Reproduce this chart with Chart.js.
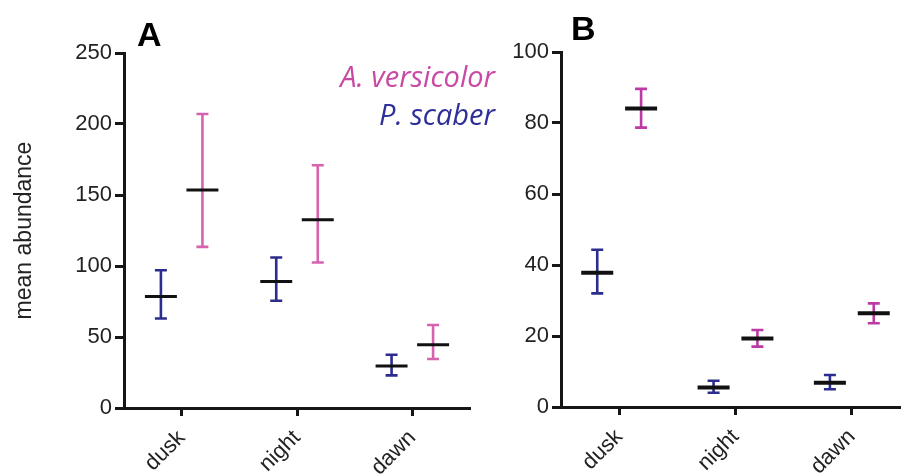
<!DOCTYPE html>
<html>
<head>
<meta charset="utf-8">
<script src="https://cdn.jsdelivr.net/npm/chart.js@4"></script>
<style>
  html, body { margin: 0; padding: 0; background: #fff; overflow: hidden; }
  body { width: 901px; height: 474px; position: relative; }
  canvas { position: absolute; top: 0; }
  #chartA { left: 0; }
  #chartB { left: 450px; }
</style>
</head>
<body>
<canvas id="chartA" width="510" height="474"></canvas>
<canvas id="chartB" width="460" height="474"></canvas>
<script>
const categories = ['dusk', 'night', 'dawn'];

// panel A
const scaberMeanA = [78.5, 89, 29.5];
const scaberLowA = [63, 75.5, 23];
const scaberHighA = [97, 106, 37.5];
const versiMeanA = [153.5, 132.5, 44.5];
const versiLowA = [113.5, 102.5, 34.5];
const versiHighA = [207, 171, 58.5];

// panel B
const scaberMeanB = [37.8, 5.5, 6.8];
const scaberLowB = [32, 4, 5];
const scaberHighB = [44.3, 7.4, 9];
const versiMeanB = [84.1, 19.3, 26.4];
const versiLowB = [78.7, 17, 23.6];
const versiHighB = [89.6, 21.7, 29.2];

const FONT = 'Liberation Sans, Arial, sans-serif';
const AXIS = '#161616';

// draws the error bars and the mean line on top of the (invisible) bars
const errorBars = {
  id: 'errorBars',
  afterDatasetsDraw(chart, args, opts) {
    const ctx = chart.ctx;
    const y = chart.scales.y;
    chart.data.datasets.forEach((ds, i) => {
      const meta = chart.getDatasetMeta(i);
      meta.data.forEach((bar, j) => {
        const x = bar.x;
        const yHi = y.getPixelForValue(ds.high[j]);
        const yLo = y.getPixelForValue(ds.low[j]);
        const yMean = y.getPixelForValue(ds.data[j]);
        const cap = 6;
        ctx.save();
        ctx.strokeStyle = ds.errorColor;
        ctx.lineWidth = 2.6;
        ctx.beginPath();
        ctx.moveTo(x, yHi);
        ctx.lineTo(x, yLo);
        ctx.moveTo(x - cap, yHi);
        ctx.lineTo(x + cap, yHi);
        ctx.moveTo(x - cap, yLo);
        ctx.lineTo(x + cap, yLo);
        ctx.stroke();
        ctx.strokeStyle = '#111';
        ctx.lineWidth = opts.meanWidth || 3;
        ctx.beginPath();
        ctx.moveTo(x - bar.width / 2, yMean);
        ctx.lineTo(x + bar.width / 2, yMean);
        ctx.stroke();
        ctx.restore();
      });
    });
  }
};

// panel letter and species legend
const panelText = {
  id: 'panelText',
  afterDraw(chart, args, opts) {
    const ctx = chart.ctx;
    const area = chart.chartArea;
    ctx.save();
    ctx.fillStyle = '#000';
    ctx.font = 'bold 34px "Liberation Sans", Arial, sans-serif';
    ctx.textAlign = 'left';
    ctx.textBaseline = 'alphabetic';
    ctx.fillText(opts.letter, area.left + opts.letterDx, opts.letterY);
    if (opts.legend) {
      ctx.font = 'italic 29px "Open Sans", sans-serif';
      ctx.textAlign = 'right';
      const order = [1, 0];
      order.forEach((di, k) => {
        const ds = chart.data.datasets[di];
        ctx.fillStyle = ds.textColor;
        ctx.fillText(ds.label, area.right + 25, 87 + k * 38);
      });
    }
    ctx.restore();
  }
};

function makeChart(id, sets, opts) {
  const datasets = [
    {
      label: 'P. scaber',
      data: sets.scaber[0], low: sets.scaber[1], high: sets.scaber[2],
      errorColor: '#2c2c8e', textColor: '#2f2f9a',
      backgroundColor: 'transparent', borderWidth: 0,
      categoryPercentage: opts.cp, barPercentage: opts.bp
    },
    {
      label: 'A. versicolor',
      data: sets.versi[0], low: sets.versi[1], high: sets.versi[2],
      errorColor: opts.pink, textColor: '#c94aa5',
      backgroundColor: 'transparent', borderWidth: 0,
      categoryPercentage: opts.cp, barPercentage: opts.bp
    }
  ];
  return new Chart(document.getElementById(id), {
    type: 'bar',
    data: { labels: categories, datasets },
    options: {
      responsive: false,
      animation: false,
      events: [],
      layout: { padding: opts.padding },
      plugins: {
        legend: { display: false },
        tooltip: { enabled: false },
        errorBars: { meanWidth: opts.meanWidth },
        panelText: { letter: opts.letter, letterDx: opts.letterDx, letterY: opts.letterY, legend: opts.legend }
      },
      scales: {
        x: {
          offset: true,
          grid: { display: true, offset: false, drawOnChartArea: false, drawTicks: true, tickLength: 8, tickWidth: 3, tickColor: AXIS },
          border: { display: true, color: AXIS, width: 3 },
          ticks: {
            color: '#222', font: { family: FONT, size: 22 },
            minRotation: 45, maxRotation: 45, padding: 9, autoSkip: false
          },
          afterFit: (s) => { s.height = opts.xHeight; }
        },
        y: {
          min: 0, max: opts.max,
          grid: { display: true, drawOnChartArea: false, drawTicks: true, tickLength: 9, tickWidth: 3, tickColor: AXIS },
          border: { display: true, color: AXIS, width: 3 },
          ticks: { stepSize: opts.step, color: '#222', font: { family: FONT, size: 22 }, padding: 3 },
          title: opts.yTitle ? {
            display: true, text: 'mean abundance', color: '#222',
            font: { family: FONT, size: 23 }, padding: { top: 11, bottom: 0 }
          } : { display: false },
          afterFit: (s) => { s.width = opts.yWidth; }
        }
      }
    },
    plugins: [errorBars, panelText]
  });
}

makeChart('chartA',
  { scaber: [scaberMeanA, scaberLowA, scaberHighA], versi: [versiMeanA, versiLowA, versiHighA] },
  { max: 250, step: 50, yTitle: true, yWidth: 124, xHeight: 66,
    padding: { top: 53, right: 40, left: 0, bottom: 0 },
    cp: 0.72, bp: 0.77, pink: '#d663ae', meanWidth: 3,
    letter: 'A', letterDx: 13, letterY: 46, legend: true });

makeChart('chartB',
  { scaber: [scaberMeanB, scaberLowB, scaberHighB], versi: [versiMeanB, versiLowB, versiHighB] },
  { max: 100, step: 20, yTitle: false, yWidth: 111, xHeight: 67,
    padding: { top: 52, right: 0, left: 0, bottom: 0 },
    cp: 0.754, bp: 0.73, pink: '#bb3aa6', meanWidth: 4,
    letter: 'B', letterDx: 10, letterY: 40, legend: false });
</script>
</body>
</html>
